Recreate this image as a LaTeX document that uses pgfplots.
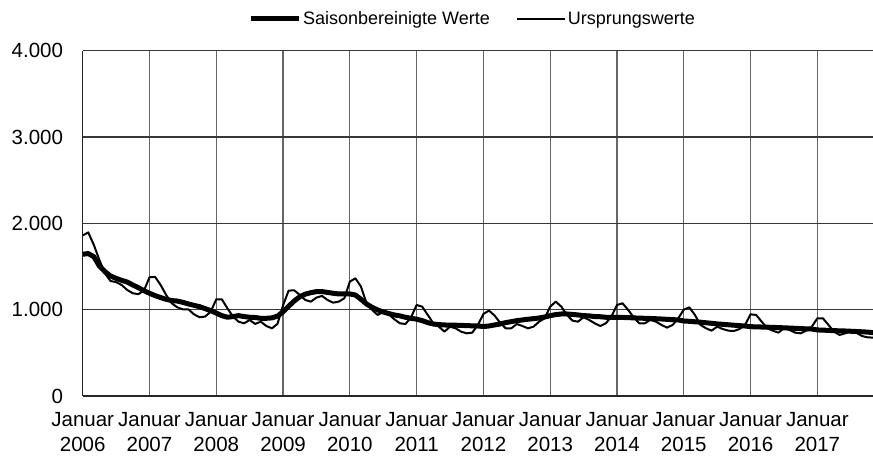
\documentclass[border=0pt]{standalone}
\usepackage{fontspec}
\setmainfont{Liberation Sans}
\usepackage{pgfplots}
\pgfplotsset{compat=1.18}
\usepackage{pgfplotstable}

\pgfplotstableread{
s u
1642 1860
1650 1895
1614 1750
1506 1576
1440 1420
1390 1332
1363 1320
1340 1286
1320 1228
1286 1190
1255 1180
1220 1220
1190 1375
1163 1380
1140 1286
1120 1170
1105 1074
1100 1027
1085 1004
1066 1004
1050 946
1035 912
1012 920
989 977
960 1120
931 1120
912 1016
920 920
931 861
920 842
912 880
909 835
900 861
900 811
905 784
925 835
975 1050
1040 1220
1100 1225
1150 1170
1180 1112
1197 1093
1209 1140
1209 1159
1200 1112
1190 1081
1182 1093
1182 1131
1182 1325
1170 1363
1120 1267
1066 1074
1027 997
997 939
973 974
955 946
939 888
928 842
912 834
900 912
890 1054
873 1035
850 939
834 842
827 803
823 745
820 803
820 784
818 745
815 726
813 734
811 823
805 950
811 990
823 932
834 850
850 784
861 784
873 834
881 811
889 784
896 803
904 861
915 900
931 1035
943 1093
950 1035
950 939
945 873
939 861
931 912
928 881
920 842
918 811
912 842
912 920
912 1054
910 1074
908 997
905 912
902 842
900 842
898 881
895 861
892 823
888 792
885 823
881 900
869 1000
865 1027
860 939
855 823
848 784
842 757
835 803
830 776
825 757
820 753
815 776
811 823
803 946
801 939
799 861
797 784
795 757
792 734
790 784
787 765
784 734
781 726
778 757
776 803
765 900
763 900
760 823
757 745
755 707
753 726
750 757
747 734
744 695
740 680
734 676
}\datatable

\begin{document}
\begin{tikzpicture}
\useasboundingbox (0pt,0pt) rectangle (873pt,457pt);
\begin{axis}[
  at={(82.7pt,61pt)}, anchor=south west,
  scale only axis, width=790.3pt, height=345.3pt,
  xmin=0, xmax=142, ymin=0, ymax=4000,
  axis x line=bottom, axis y line=left,
  axis line style={-, line width=1.4pt, black!85},
  xtick={0,12,...,132},
  xticklabels={Januar\\2006,Januar\\2007,Januar\\2008,Januar\\2009,Januar\\2010,Januar\\2011,Januar\\2012,Januar\\2013,Januar\\2014,Januar\\2015,Januar\\2016,Januar\\2017},
  ytick={0,1000,2000,3000,4000},
  yticklabels={0,1.000,2.000,3.000,4.000},
  major tick length=0pt,
  grid=major,
  major x grid style={line width=1.2pt, black!60},
  major y grid style={line width=1.3pt, black!78},
  xticklabel style={align=center, inner sep=0pt, anchor=north, yshift=-16.5pt, font=\fontsize{20.5}{24.5}\selectfont},
  yticklabel style={inner sep=0pt, anchor=east, xshift=-19.5pt, font=\fontsize{20.5}{24.5}\selectfont},
  legend style={at={(0.209,1.0918)}, anchor=west, draw=none, fill=none, inner sep=0pt,
    font=\fontsize{18}{21}\selectfont, /tikz/every even column/.append style={column sep=24pt}},
  legend columns=2,
  legend cell align=left,
  legend image code/.code={\draw[#1] (0pt,0pt) -- (48pt,0pt);},
  clip=false,
]
\addplot[black, line width=5pt, line join=round] table[x expr=\coordindex, y=s] {\datatable};
\addlegendentry{Saisonbereinigte Werte}
\addplot[black, line width=2pt, line join=round] table[x expr=\coordindex, y=u] {\datatable};
\addlegendentry{Ursprungswerte}
\end{axis}
\end{tikzpicture}
\end{document}
